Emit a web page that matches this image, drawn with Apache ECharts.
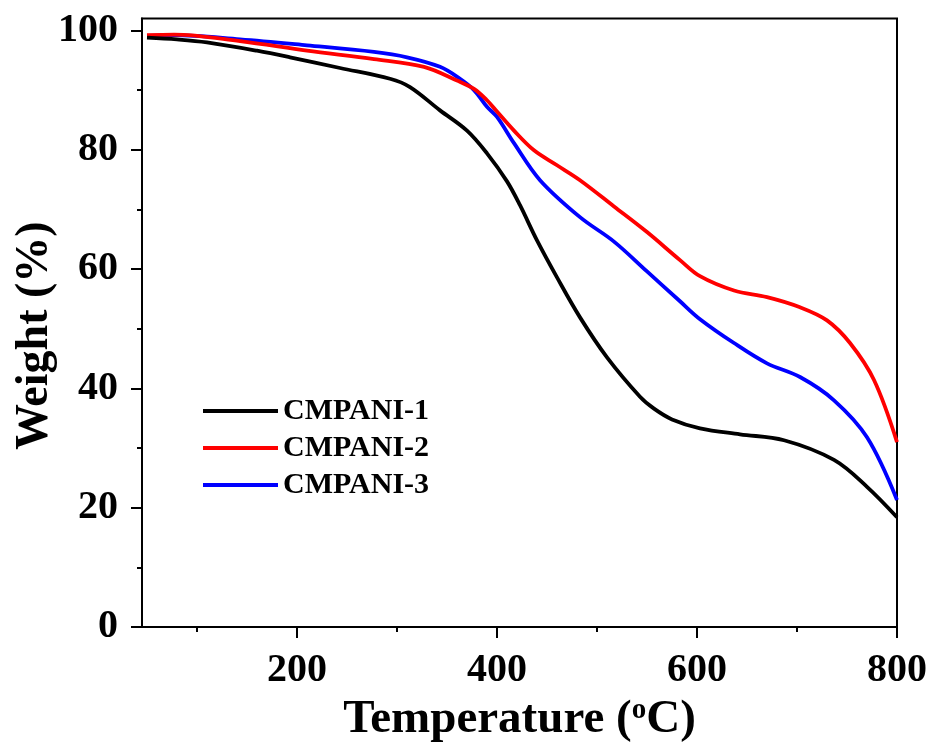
<!DOCTYPE html>
<html>
<head>
<meta charset="utf-8">
<script src="https://cdn.jsdelivr.net/npm/echarts@6/dist/echarts.min.js"></script>
<style>
html,body{margin:0;padding:0;background:#fff;}
#chart{width:934px;height:747px;}
</style>
</head>
<body>
<div id="chart"></div>
<script>
// ---- data ----
const seriesNames = ['CMPANI-1', 'CMPANI-2', 'CMPANI-3'];
const temp1 = [50, 80, 110, 160, 193, 243, 293, 313, 343, 370, 390, 410, 423, 440, 460, 483, 510, 543, 557, 575, 603, 643, 687, 737, 770, 800];
const weight1 = [98.8, 98.5, 98.0, 96.6, 95.5, 93.7, 91.9, 90.5, 86.6, 83.2, 79.4, 74.7, 70.7, 64.8, 58.6, 51.9, 45.2, 38.6, 36.6, 34.8, 33.3, 32.3, 31.3, 28.0, 23.5, 18.4];
const temp2 = [50, 77, 143, 210, 277, 327, 360, 377, 390, 400, 417, 437, 460, 483, 517, 550, 583, 603, 637, 670, 703, 730, 753, 777, 800];
const weight2 = [99.2, 99.3, 98.2, 96.6, 95.2, 93.9, 91.6, 90.2, 88.3, 86.4, 83.2, 79.9, 77.4, 74.9, 70.5, 66.2, 61.5, 58.8, 56.4, 55.3, 53.6, 51.4, 47.6, 41.4, 31.0];
const temp3 = [50, 77, 143, 210, 277, 310, 343, 363, 377, 390, 400, 417, 443, 483, 517, 550, 583, 603, 637, 670, 703, 737, 770, 800];
const weight3 = [99.1, 99.2, 98.5, 97.5, 96.4, 95.5, 93.9, 91.9, 90.0, 87.2, 85.5, 81.1, 74.9, 68.7, 64.6, 59.6, 54.6, 51.6, 47.6, 44.2, 41.9, 38.0, 31.8, 21.3];
const xTicks = [200, 400, 600, 800];
const xMinorTicks = [100, 300, 500, 700];
const yTicks = [0, 20, 40, 60, 80, 100];
const yMinorTicks = [10, 30, 50, 70, 90];
const colors = ['#000000', '#ff0000', '#0000ff'];

const FONT = "'Liberation Serif', 'Times New Roman', serif";
function pairs(xs, ys) { return xs.map((x, i) => [x, ys[i]]); }
const temps = [temp1, temp2, temp3];
const weights = [weight1, weight2, weight3];

const chart = echarts.init(document.getElementById('chart'), null, {renderer: 'canvas'});
const xBase = {
  type: 'value', min: 45, max: 800, gridIndex: 0,
  splitLine: {show: false}
};
const yBase = {
  type: 'value', min: 0, max: 102, gridIndex: 0,
  splitLine: {show: false}
};
chart.setOption({
  backgroundColor: '#ffffff',
  animation: false,
  grid: {left: 142, right: 37, top: 18.5, bottom: 120, show: true, borderColor: '#000', borderWidth: 2, backgroundColor: 'transparent', outerBoundsMode: 'none', containLabel: false},
  legend: {
    data: seriesNames,
    orient: 'vertical',
    left: 198, top: 391,
    itemWidth: 75, itemHeight: 16, itemGap: 7,
    textStyle: {fontFamily: FONT, fontWeight: 'bold', fontSize: 30, color: '#000'},
    icon: 'path://M0,0 L75,0 L75,4 L0,4 Z'
  },
  xAxis: [
    Object.assign({}, xBase, {
      position: 'bottom',
      name: '{t|Temperature (}{s|o}{t|C)}',
      nameLocation: 'middle', nameGap: 69, nameMoveOverlap: false,
      nameTextStyle: {
        rich: {
          t: {fontFamily: FONT, fontWeight: 'bold', fontSize: 47, color: '#000'},
          s: {fontFamily: FONT, fontWeight: 'bold', fontSize: 29, color: '#000', verticalAlign: 'top', padding: [0, 0, 18, 0]}
        }
      },
      axisLine: {show: true, onZero: false, lineStyle: {color: '#000', width: 2}},
      axisTick: {show: true, inside: false, length: 11, lineStyle: {color: '#000', width: 2}, customValues: xTicks},
      axisLabel: {show: true, margin: 24, fontFamily: FONT, fontWeight: 'bold', fontSize: 40, color: '#000', customValues: xTicks}
    }),
    Object.assign({}, xBase, {
      position: 'bottom',
      axisLine: {show: false},
      axisTick: {show: true, inside: false, length: 5, lineStyle: {color: '#000', width: 2}, customValues: xMinorTicks},
      axisLabel: {show: false}
    })
  ],
  yAxis: [
    Object.assign({}, yBase, {
      position: 'left',
      name: 'Weight (%)',
      nameLocation: 'middle', nameGap: 84, nameMoveOverlap: false,
      nameTextStyle: {fontFamily: FONT, fontWeight: 'bold', fontSize: 46, color: '#000', padding: [0, 26, 0, 0]},
      axisLine: {show: true, onZero: false, lineStyle: {color: '#000', width: 2}},
      axisTick: {show: true, inside: false, length: 11, lineStyle: {color: '#000', width: 2}, customValues: yTicks},
      axisLabel: {show: true, margin: 24, fontFamily: FONT, fontWeight: 'bold', fontSize: 40, color: '#000', customValues: yTicks}
    }),
    Object.assign({}, yBase, {
      position: 'left',
      axisLine: {show: false},
      axisTick: {show: true, inside: false, length: 5, lineStyle: {color: '#000', width: 2}, customValues: yMinorTicks},
      axisLabel: {show: false}
    })
  ],
  series: seriesNames.map((name, i) => ({
    name: name,
    type: 'line',
    xAxisIndex: 0, yAxisIndex: 0,
    data: pairs(temps[i], weights[i]),
    symbol: 'none',
    smooth: 0.35,
    lineStyle: {color: colors[i], width: 3.8},
    itemStyle: {color: colors[i]},
    z: 3 - i + 2
  }))
});
</script>
</body>
</html>
